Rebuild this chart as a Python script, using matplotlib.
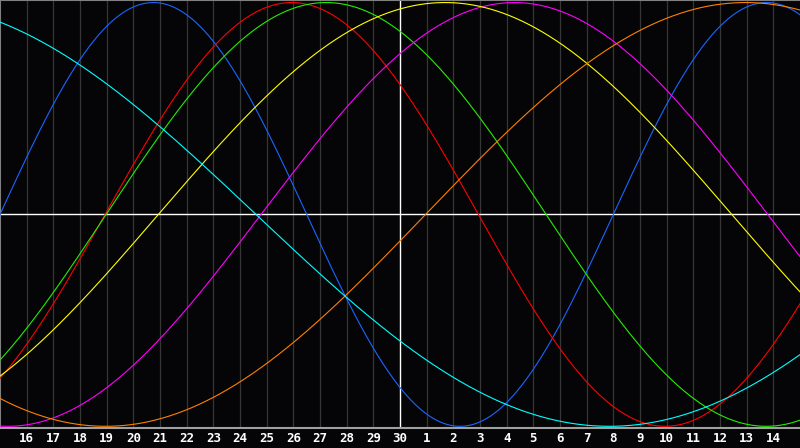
import numpy as np
import matplotlib.pyplot as plt

# biorhythm cycles: period (days) and day (from left edge) where the curve rises through zero
periods = [23, 28, 33, 38, 43, 48, 53]
rise_day = [0.0, 3.94, 3.98, 9.79, 5.94, 15.96, -16.9]
colors = ['#1a66ff', '#ff0000', '#22ee00', '#ff00ff', '#ffff00', '#ff8000', '#00ffff']

# day labels under the grid lines (15 of one month to 14 of the next)
day_labels = [str(d) for d in range(16, 31)] + [str(d) for d in range(1, 15)]
n_days = 30

bg = '#050507'
fig = plt.figure(figsize=(8, 4.48), dpi=100, facecolor=bg)
ax = fig.add_axes([0, 20 / 448, 1, 428 / 448], facecolor=bg)

t = np.linspace(0, n_days, 1200)

# grid lines
for k in range(1, n_days):
    if k != 15:
        ax.axvline(k, color='#363636', lw=0.9, zorder=1)
ax.axvline(15, color='white', lw=1.0, zorder=2)
ax.axhline(0, color='white', lw=1.0, zorder=2)

for p, r, c in zip(periods, rise_day, colors):
    ax.plot(t, np.sin(2 * np.pi * (t - r) / p), color=c, lw=0.8, zorder=3)

ax.set_xlim(0, n_days)
ax.set_ylim(-1.008, 1.012)
ax.set_xticks(range(1, n_days))
ax.set_xticklabels(day_labels, color='white', fontsize=9, fontweight='bold',
                   family='DejaVu Sans Mono')
ax.tick_params(axis='x', length=0, pad=3)
ax.set_yticks([])

ax.spines['right'].set_visible(False)
ax.spines['top'].set_color('#808080')
ax.spines['left'].set_color('#808080')
ax.spines['bottom'].set_color('#a0a0a0')
for s in ['top', 'left', 'bottom']:
    ax.spines[s].set_linewidth(1.5)

fig.savefig('out.png', dpi=100, facecolor=bg)
